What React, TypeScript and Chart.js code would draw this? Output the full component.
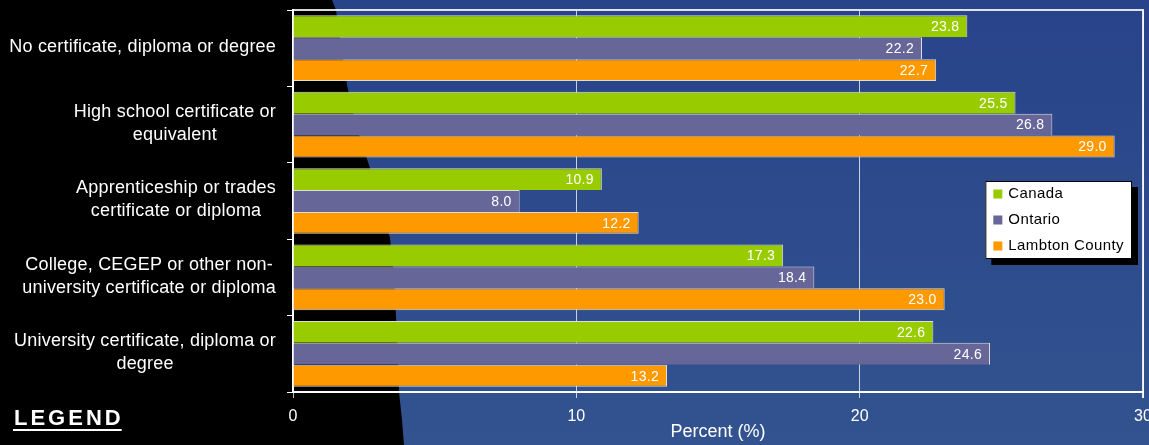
import { useEffect, useRef } from "react";
import { Chart, registerables } from "chart.js";

Chart.register(...registerables);

const categories: string[][] = [
  ["No certificate, diploma or degree"],
  ["High school certificate or", "equivalent"],
  ["Apprenticeship or trades", "certificate or diploma"],
  ["College, CEGEP or other non-", "university certificate or diploma"],
  ["University certificate, diploma or", "degree"],
];
const seriesNames = ["Canada", "Ontario", "Lambton County"];
const canada = [23.8, 25.5, 10.9, 17.3, 22.6];
const ontario = [22.2, 26.8, 8.0, 18.4, 24.6];
const lambton = [22.7, 29.0, 12.2, 23.0, 13.2];
const seriesColors = ["#99cc00", "#666699", "#ff9900"];
const xMin = 0;
const xMax = 30;
const xStep = 10;
const axisTitle = "Percent (%)";
const legendHeading = "LEGEND";

const FONT = "'Liberation Sans', Arial, sans-serif";

// decorative slide background: black on the left, blue on the right with a wavy edge
const bgEdge: [number, number][] = [
  [332, 0], [336, 10], [341, 45], [347, 85], [356, 125], [368, 162],
  [380, 200], [390, 238], [394, 275], [396, 316], [398, 360], [399, 392],
  [402, 420], [404, 445],
];

const backgroundPlugin = {
  id: "slideBg",
  beforeDraw(chart: any) {
    const { ctx, width, height } = chart;
    ctx.save();
    ctx.fillStyle = "#000000";
    ctx.fillRect(0, 0, width, height);
    const g = ctx.createLinearGradient(0, 0, 0, height);
    g.addColorStop(0, "#28438a");
    g.addColorStop(1, "#32538f");
    ctx.fillStyle = g;
    ctx.beginPath();
    ctx.moveTo(bgEdge[0][0], bgEdge[0][1]);
    for (const [x, y] of bgEdge) ctx.lineTo(x, y);
    ctx.lineTo(width, height);
    ctx.lineTo(width, 0);
    ctx.closePath();
    ctx.fill();
    ctx.restore();
  },
};

const framePlugin = {
  id: "frame",
  afterDatasetsDraw(chart: any) {
    const { ctx, chartArea } = chart;
    ctx.save();
    ctx.strokeStyle = "rgba(255,255,255,0.85)";
    ctx.lineWidth = 2;
    ctx.beginPath();
    ctx.moveTo(chartArea.left, chartArea.top);
    ctx.lineTo(chartArea.right, chartArea.top);
    ctx.lineTo(chartArea.right, chartArea.bottom + 6);
    ctx.stroke();
    ctx.restore();
  },
};

const valueLabelPlugin = {
  id: "valueLabels",
  afterDatasetsDraw(chart: any) {
    const { ctx } = chart;
    ctx.save();
    ctx.font = `14px ${FONT}`;
    (ctx as any).letterSpacing = "0.3px";
    ctx.fillStyle = "#ffffff";
    ctx.textAlign = "right";
    ctx.textBaseline = "middle";
    chart.data.datasets.forEach((ds: any, di: number) => {
      chart.getDatasetMeta(di).data.forEach((el: any, i: number) => {
        const v = ds.data[i] as number;
        ctx.fillText(v.toFixed(1), el.x - 8, el.y + 1);
      });
    });
    ctx.restore();
  },
};

const yLabelPlugin = {
  id: "yLabels",
  afterDraw(chart: any) {
    const { ctx, chartArea } = chart;
    const yScale = chart.scales.y;
    ctx.save();
    ctx.font = `18px ${FONT}`;
    (ctx as any).letterSpacing = "0.2px";
    ctx.fillStyle = "#ffffff";
    ctx.textAlign = "center";
    ctx.textBaseline = "middle";
    const lineH = 23;
    (chart.data.labels as string[][]).forEach((lines, i) => {
      const yc = yScale.getPixelForValue(i) - 1;
      const maxW = Math.max(...lines.map((l) => ctx.measureText(l).width));
      const cx = chartArea.left - 17 - maxW / 2;
      const y0 = yc - ((lines.length - 1) * lineH) / 2;
      lines.forEach((l, k) => ctx.fillText(l, cx, y0 + k * lineH));
    });
    ctx.restore();
  },
};

const legendPlugin = {
  id: "boxLegend",
  afterDraw(chart: any) {
    const { ctx, chartArea } = chart;
    ctx.save();
    ctx.font = `15px ${FONT}`;
    (ctx as any).letterSpacing = "0.4px";
    const names = chart.data.datasets.map((d: any) => d.label as string);
    const textW = Math.max(...names.map((n: string) => ctx.measureText(n).width));
    const padL = 8, marker = 9, gap = 6, padR = 8, rowH = 26, padV = 0;
    const w = padL + marker + gap + textW + padR;
    const h = names.length * rowH + padV;
    const right = chartArea.right - 11;
    const x = right - w;
    const y = chartArea.top + 171;
    ctx.fillStyle = "#000000";
    ctx.fillRect(x + 6, y + 6, w, h);
    ctx.fillStyle = "#ffffff";
    ctx.fillRect(x, y, w, h);
    ctx.strokeStyle = "#000000";
    ctx.lineWidth = 1;
    ctx.strokeRect(x + 0.5, y + 0.5, w - 1, h - 1);
    ctx.textAlign = "left";
    ctx.textBaseline = "middle";
    chart.data.datasets.forEach((d: any, i: number) => {
      const cy = y + 13 + i * rowH;
      ctx.fillStyle = d.backgroundColor;
      ctx.fillRect(x + padL, cy - marker / 2, marker, marker);
      ctx.fillStyle = "#000000";
      ctx.fillText(d.label, x + padL + marker + gap, cy);
    });
    ctx.restore();

    // slide "LEGEND" heading
    ctx.save();
    ctx.font = `bold 22px ${FONT}`;
    (ctx as any).letterSpacing = "3px";
    ctx.fillStyle = "#ffffff";
    ctx.textAlign = "left";
    ctx.textBaseline = "alphabetic";
    ctx.fillText(legendHeading, 14, 425);
    const tw = ctx.measureText(legendHeading).width;
    ctx.fillRect(13, 429, tw - 1, 2);
    ctx.restore();
  },
};

export default function App() {
  const ref = useRef<HTMLCanvasElement | null>(null);

  useEffect(() => {
    document.body.style.margin = "0";
    document.body.style.background = "#000";
    const canvas = ref.current;
    if (!canvas) return;
    const values = [canada, ontario, lambton];
    const chart = new Chart(canvas, {
      type: "bar",
      data: {
        labels: categories as any,
        datasets: seriesNames.map((name, i) => ({
          label: name,
          data: values[i],
          backgroundColor: seriesColors[i],
          borderColor: "#dedede",
          borderWidth:
            i === seriesNames.length - 1
              ? { top: 1, right: 1, bottom: 1, left: 0 }
              : { top: 1, right: 1, bottom: 0, left: 0 },
          borderSkipped: false,
          categoryPercentage: 0.86,
          barPercentage: 1.0,
        })),
      },
      options: {
        indexAxis: "y",
        responsive: false,
        animation: false,
        layout: { padding: { left: 0, top: 10, right: 6, bottom: 0 } },
        plugins: {
          legend: { display: false },
          tooltip: { enabled: false },
        },
        scales: {
          x: {
            min: xMin,
            max: xMax,
            ticks: {
              stepSize: xStep,
              color: "#ffffff",
              font: { family: FONT, size: 16 },
              padding: 9,
            },
            grid: {
              color: "rgba(255,255,255,0.75)",
              lineWidth: 1,
              tickLength: 6,
            },
            border: { color: "#ffffff", width: 2 },
            title: {
              display: true,
              text: axisTitle,
              color: "#ffffff",
              font: { family: FONT, size: 18 },
              padding: { top: 0, bottom: 2 },
            },
            afterFit: (scale: any) => {
              scale.height = 53;
              scale.paddingLeft = 0;
              scale.paddingRight = 0;
            },
          },
          y: {
            ticks: { display: false },
            grid: {
              drawOnChartArea: false,
              color: "#ffffff",
              tickLength: 6,
              offset: true,
            },
            border: { color: "#ffffff", width: 2 },
            afterFit: (scale: any) => {
              scale.width = 293;
            },
          },
        },
      } as any,
      plugins: [backgroundPlugin, framePlugin, valueLabelPlugin, yLabelPlugin, legendPlugin],
    });
    return () => chart.destroy();
  }, []);

  return (
    <div style={{ width: 1149, height: 445, position: "relative" }}>
      <canvas ref={ref} width={1149} height={445} style={{ display: "block" }} />
    </div>
  );
}
